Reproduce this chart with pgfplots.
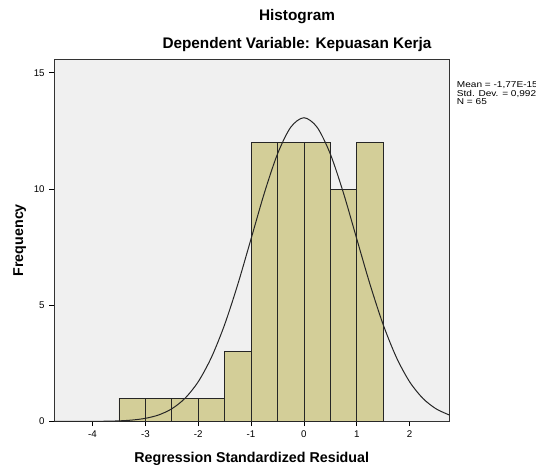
\documentclass[border=0pt]{standalone}
\usepackage{pgfplots}
\pgfplotsset{compat=1.18}
\usepackage{fontspec}
\setmainfont{Liberation Sans}
\definecolor{barfill}{RGB}{211,206,152}
\definecolor{bgray}{RGB}{240,240,240}
\begin{document}
\begin{tikzpicture}
\begin{axis}[
  at={(0,0)}, anchor=south west,
  width=296.6pt, height=271.9pt, scale only axis,
  xmin=-4.73, xmax=2.755, ymin=0, ymax=15.6,
  axis background/.style={fill=bgray},
  axis line style={black!80, line width=0.6pt},
  xtick={-4,-3,-2,-1,0,1,2},
  xticklabels={-4,-3,-2,-1,0,1,2},
  ytick={0,5,10,15},
  yticklabels={0,5,10,15},
  tick align=outside, tick pos=left,
  major tick length=3.5pt,
  tick style={black, line width=0.6pt},
  tick label style={font=\fontsize{7.3}{8}\selectfont},
  xlabel={\bfseries Regression Standardized Residual},
  ylabel={\bfseries Frequency},
  label style={font=\fontsize{10.7}{12}\selectfont},
  xlabel style={yshift=-4pt},
  ylabel style={yshift=-1pt},
  clip=false,
]
\addplot[ybar interval, fill=barfill, draw=black!85, line width=0.6pt] coordinates {
(-3.5,1) (-3,1) (-2.5,1) (-2,1) (-1.5,3) (-1,12) (-0.5,12) (0,12) (0.5,10) (1,12) (1.5,12)};
\addplot[smooth, black!85, line width=0.75pt] coordinates {
(-4.73,0.0001) (-4.5,0.0004) (-4.25,0.0013) (-4,0.004) (-3.75,0.011) (-3.5,0.026) (-3.25,0.061) (-3,0.135) (-2.75,0.280) (-2.5,0.546) (-2.25,0.998) (-2,1.71) (-1.75,2.76) (-1.5,4.17) (-1.25,5.91) (-1,7.86) (-0.75,9.82) (-0.5,11.51) (-0.25,12.66) (0,13.07)
(0.25,12.66) (0.5,11.51) (0.75,9.82) (1,7.86) (1.25,5.91) (1.5,4.17) (1.75,2.76) (2,1.71) (2.25,0.998) (2.5,0.546) (2.755,0.276)};
\end{axis}
\node[font=\bfseries\fontsize{11.5}{13}\selectfont] at (182.25pt,303.4pt) {Histogram};
\node[font=\bfseries\fontsize{11.5}{13}\selectfont] at (182.25pt,282.4pt) {Dependent Variable: Kepuasan Kerja};
\node[anchor=north west, align=left, inner sep=0pt, font=\fontsize{6.4}{6.3}\selectfont] at (302pt,255pt) {\scalebox{1.18}[1]{Mean = -1,77E-15}\\\scalebox{1.18}[1]{Std. Dev. = 0,992}\\\scalebox{1.18}[1]{N = 65}};
\pgfresetboundingbox
\path[use as bounding box] (-40.5pt,-32.6pt) rectangle (361.5pt,316.1pt);
\end{tikzpicture}
\end{document}
